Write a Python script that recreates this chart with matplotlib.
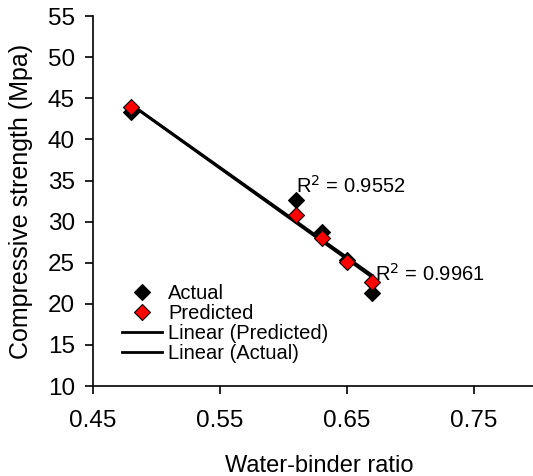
import matplotlib
matplotlib.use("Agg")
import matplotlib.pyplot as plt
import numpy as np

# water-binder ratio
wb_ratio = [0.48, 0.61, 0.63, 0.65, 0.67]
actual = [43.3, 32.6, 28.7, 25.3, 21.3]
predicted = [43.9, 30.8, 28.0, 25.1, 22.6]

r2_actual = "R$^2$ = 0.9552"
r2_predicted = "R$^2$ = 0.9961"

plt.rcParams["font.family"] = ["Liberation Sans", "DejaVu Sans"]

fig = plt.figure(figsize=(5.33, 4.76), dpi=100)
ax = fig.add_axes([0.1745, 0.189, 0.834, 0.777])

x = np.array(wb_ratio)
xs = np.array([x.min(), x.max()])

# trendlines (Excel style, over the data range)
p_fit = np.polyfit(x, predicted, 1)
a_fit = np.polyfit(x, actual, 1)

ax.plot(x, actual, linestyle="none", marker="D", markersize=8, color="black",
        markeredgecolor="black", markeredgewidth=0.8, label="Actual", zorder=3)
ax.plot(x, predicted, linestyle="none", marker="D", markersize=8, color="red",
        markeredgecolor="black", markeredgewidth=0.8, label="Predicted", zorder=4)
ax.plot(xs, np.polyval(p_fit, xs), color="black", linewidth=2, label="Linear (Predicted)", zorder=2)
ax.plot(xs, np.polyval(a_fit, xs), color="black", linewidth=2, label="Linear (Actual)", zorder=2)

ax.text(0.6095, 34.4, r2_actual, fontsize=14.5, va="center", ha="left")
ax.text(0.672, 23.7, r2_predicted, fontsize=14.5, va="center", ha="left")

ax.set_xlim(0.45, 0.80)
ax.set_ylim(10, 55)
ax.set_xticks([0.45, 0.55, 0.65, 0.75])
ax.set_xticklabels(["0.45", "0.55", "0.65", "0.75"])
ax.set_yticks(range(10, 60, 5))

for side in ["top", "right"]:
    ax.spines[side].set_visible(False)
ax.spines["left"].set_linewidth(1.2)
ax.spines["bottom"].set_linewidth(1.2)

ax.tick_params(axis="x", direction="out", length=6, width=1.2, pad=11, labelsize=17.5)
ax.tick_params(axis="y", direction="out", length=6, width=1.2, pad=7, labelsize=17.5)

ax.set_xlabel("Water-binder ratio", fontsize=17)
ax.set_ylabel("Compressive strength (Mpa)", fontsize=18)
ax.xaxis.set_label_coords(0.51, -0.186)
ax.yaxis.set_label_coords(-0.134, 0.5)

ax.legend(loc="lower left", bbox_to_anchor=(0.047, 0.04), frameon=False, fontsize=14.5,
          handlelength=2.0, handletextpad=0.3, labelspacing=0.05, borderaxespad=0)

fig.savefig("out.png", dpi=100)
